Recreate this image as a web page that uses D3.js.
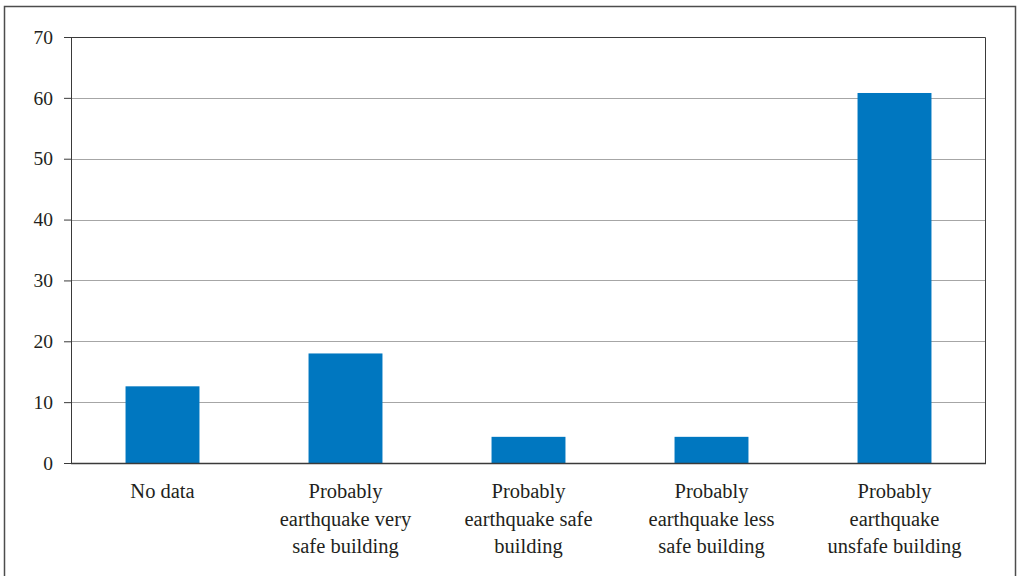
<!DOCTYPE html>
<html>
<head>
<meta charset="utf-8">
<script src="https://cdn.jsdelivr.net/npm/d3@7"></script>
<style>
  html, body { margin: 0; padding: 0; background: #fff; }
  svg { display: block; }
  text { font-family: "Liberation Serif", "DejaVu Serif", serif; fill: #231f20; }
</style>
</head>
<body>
<svg id="chart" width="1017" height="576"></svg>
<script>
// Share of buildings by assessed earthquake safety (%)
const categories = [
  ["No data"],
  ["Probably", "earthquake very", "safe building"],
  ["Probably", "earthquake safe", "building"],
  ["Probably", "earthquake less", "safe building"],
  ["Probably", "earthquake", "unsfafe building"]
];
const values = [12.6, 18.0, 4.3, 4.3, 60.8];
const yTicks = [0, 10, 20, 30, 40, 50, 60, 70];

const svg = d3.select("#chart");
const margin = { left: 71, top: 37, right: 31, bottom: 113 };
const W = 1017, H = 576;
const plotW = W - margin.left - margin.right;
const plotH = H - margin.top - margin.bottom;

// outer frame
svg.append("rect")
  .attr("x", 4.5).attr("y", 6.5)
  .attr("width", 1011).attr("height", 580)
  .attr("fill", "none").attr("stroke", "#4d4d4d").attr("stroke-width", 1.5);

const g = svg.append("g").attr("transform", `translate(${margin.left},${margin.top})`);

const x = d3.scaleBand()
  .domain(d3.range(values.length))
  .range([0, plotW])
  .paddingInner(0.596)
  .paddingOuter(0.298);

const y = d3.scaleLinear().domain([0, 70]).range([plotH, 0]);

// horizontal gridlines
g.append("g").selectAll("line")
  .data(yTicks.filter(d => d > 0 && d < 70))
  .join("line")
  .attr("x1", 0).attr("x2", plotW)
  .attr("y1", d => Math.round(y(d)) + 0.5).attr("y2", d => Math.round(y(d)) + 0.5)
  .attr("stroke", "#a6a6a6").attr("stroke-width", 1);

// plot box top and right edges
g.append("path")
  .attr("d", `M0,0.5H${plotW - 0.5}V${plotH}`)
  .attr("fill", "none").attr("stroke", "#3a3a3a").attr("stroke-width", 1);

// bars
g.append("g").selectAll("rect")
  .data(values)
  .join("rect")
  .attr("x", (d, i) => x(i))
  .attr("y", d => y(d))
  .attr("width", x.bandwidth())
  .attr("height", d => plotH - y(d))
  .attr("fill", "#0077c0");

// y axis
const yAxis = g.append("g")
  .call(d3.axisLeft(y).tickValues(yTicks).tickSize(7).tickPadding(11).tickFormat(d3.format("d")));
yAxis.select(".domain").attr("stroke", "#3a3a3a");
yAxis.selectAll(".tick line").attr("stroke", "#3a3a3a");
yAxis.selectAll(".tick text").attr("font-size", 19.5).attr("fill", "#231f20")
  .attr("font-family", '"Liberation Serif", serif');

// x axis baseline
g.append("line")
  .attr("x1", 0).attr("x2", plotW)
  .attr("y1", plotH + 0.5).attr("y2", plotH + 0.5)
  .attr("stroke", "#3a3a3a").attr("stroke-width", 1.5);

// category labels
const labels = g.append("g").selectAll("text")
  .data(categories)
  .join("text")
  .attr("x", (d, i) => x(i) + x.bandwidth() / 2)
  .attr("y", plotH + 35)
  .attr("text-anchor", "middle")
  .attr("font-size", 20.5);
labels.selectAll("tspan")
  .data(d => d)
  .join("tspan")
  .attr("x", function () { return d3.select(this.parentNode).attr("x"); })
  .attr("dy", (d, i) => i === 0 ? 0 : 27.5)
  .text(d => d);
</script>
</body>
</html>
